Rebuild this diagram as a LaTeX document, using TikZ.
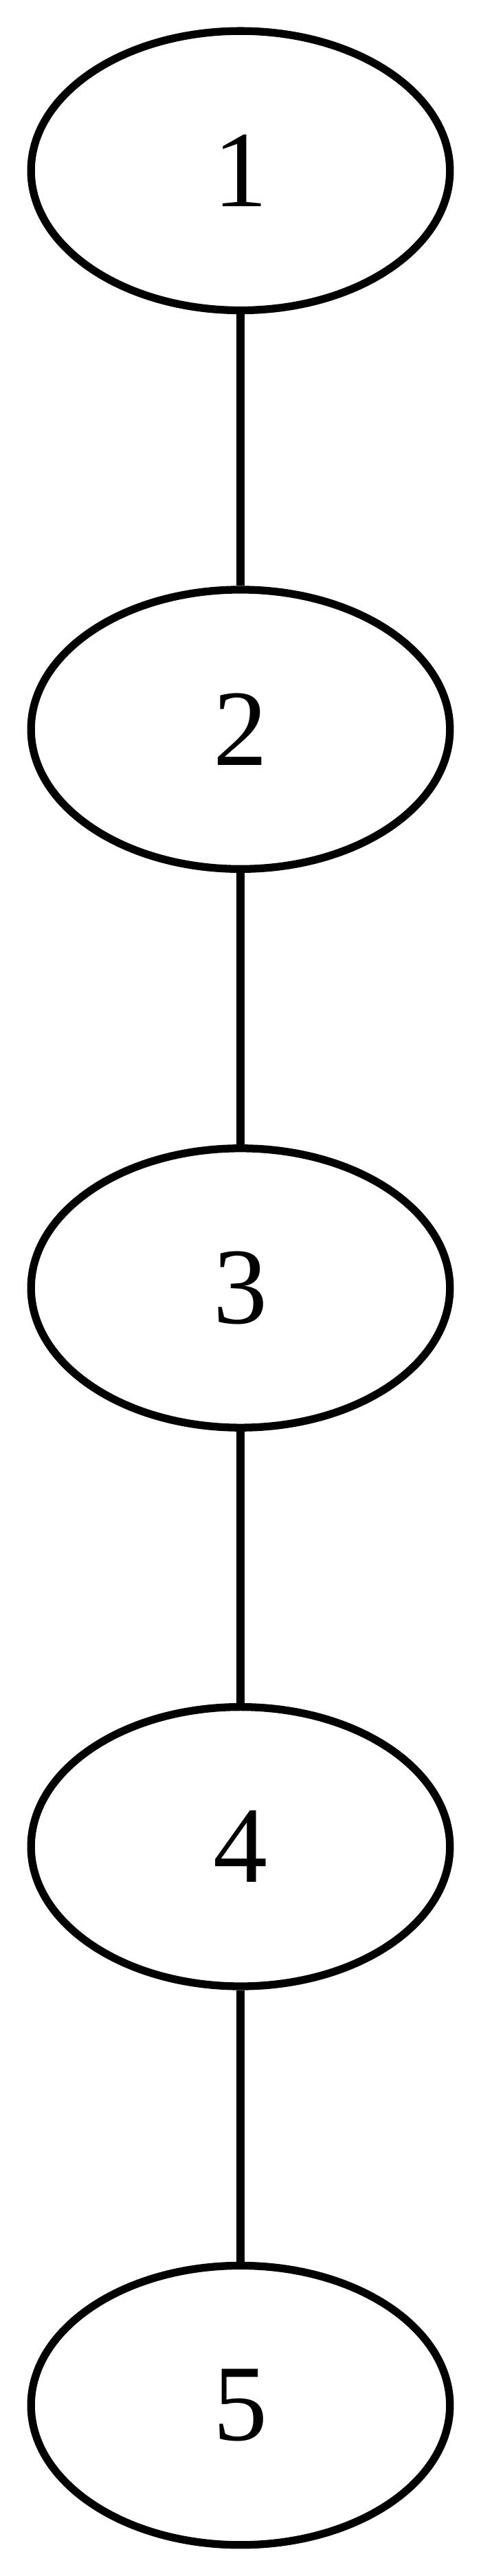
\documentclass[tikz,border=0pt]{standalone}
\usepackage{fontspec}
\setmainfont{Liberation Serif}
\usetikzlibrary{shapes.geometric}
\tikzset{
	vertex/.style={draw, ellipse, line width=1pt, minimum width=54pt, minimum height=36pt, inner sep=0pt, font=\fontsize{14}{14}\selectfont},
	link/.style={line width=1pt}
}
\begin{document}
\begin{tikzpicture}[x=1pt, y=1pt]
			\useasboundingbox (0,0) rectangle (62,332);
			\node[vertex] (v1) at (31,310) {1};
			\node[vertex] (v2) at (31,238) {2};
			\node[vertex] (v3) at (31,166) {3};
			\node[vertex] (v4) at (31,94) {4};
			\node[vertex] (v5) at (31,22) {5};
			\draw[link] (v1) -- (v2);
			\draw[link] (v2) -- (v3);
			\draw[link] (v3) -- (v4);
			\draw[link] (v4) -- (v5);
		\end{tikzpicture}
\end{document}
